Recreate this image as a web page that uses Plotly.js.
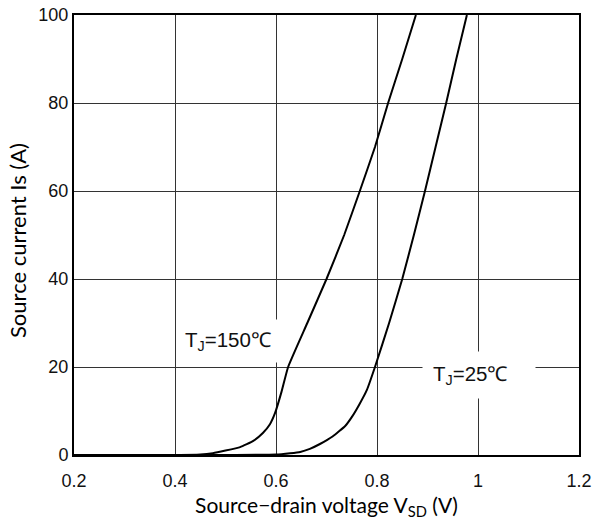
<!DOCTYPE html>
<html>
<head>
<meta charset="utf-8">
<script src="https://cdn.plot.ly/plotly-3.0.1.min.js"></script>
<style>html,body{margin:0;padding:0;background:#fff;}#chart{width:594px;height:520px;}</style>
</head>
<body>
<div id="chart"></div>
<script>
// Tj = 150 C curve
const vsd150 = [0.2, 0.3, 0.4, 0.45, 0.475, 0.5, 0.529, 0.555, 0.574, 0.588, 0.598, 0.611, 0.624, 0.662, 0.7, 0.735, 0.766, 0.796, 0.822, 0.85, 0.877];
const is150  = [0, 0, 0, 0.1, 0.4, 1.0, 1.8, 3.2, 5, 7, 9.5, 14.4, 20, 30, 40, 50, 60, 70, 80, 90, 100];
// Tj = 25 C curve
const vsd25 = [0.2, 0.5, 0.6, 0.628, 0.648, 0.667, 0.687, 0.712, 0.737, 0.75, 0.765, 0.78, 0.796, 0.824, 0.85, 0.873, 0.895, 0.916, 0.937, 0.957, 0.978];
const is25  = [0, 0, 0.1, 0.4, 0.7, 1.4, 2.5, 4.2, 6.6, 8.6, 11.5, 14.8, 20, 30, 40, 50, 60, 70, 80, 90, 100];
const labels = ["T<sub>J</sub>=150℃", "T<sub>J</sub>=25℃&nbsp;&nbsp;&nbsp;"];
const labelPos = [[0.504, 26.0], [1.0025, 18.2]];
const labelPad = [8, 10];
const xTitle = 'Source\u2212drain voltage V<sub>SD</sub> (V)';
const yTitle = 'Source current Is (A)';

const lineStyle = {color: '#000', width: 2, shape: 'spline', smoothing: 0.4};
const traces = [
  {x: vsd150, y: is150, mode: 'lines', line: lineStyle, hoverinfo: 'skip'},
  {x: vsd25, y: is25, mode: 'lines', line: lineStyle, hoverinfo: 'skip'}
];
const tickFont = {family: 'Arial, sans-serif', size: 18, color: '#111'};
const axisCommon = {
  showgrid: true, gridcolor: '#333', gridwidth: 1,
  showline: true, linecolor: '#000', linewidth: 2, mirror: true,
  zeroline: false, ticks: '', tickfont: tickFont, fixedrange: true
};
const layout = {
  width: 594, height: 520,
  margin: {l: 74, r: 15, t: 15, b: 65},
  paper_bgcolor: '#fff', plot_bgcolor: '#fff',
  showlegend: false,
  xaxis: Object.assign({}, axisCommon, {
    range: [0.2, 1.2], dtick: 0.2, tick0: 0.2, ticklabelstandoff: 8,
    title: {text: xTitle, font: {family: 'Lato, sans-serif', size: 21, color: '#000'}, standoff: 9}
  }),
  yaxis: Object.assign({}, axisCommon, {
    range: [0, 100], dtick: 20, ticklabelstandoff: 11.5,
    title: {text: ''}
  }),
  annotations: labels.map((t, i) => ({
    x: labelPos[i][0], y: labelPos[i][1], xref: 'x', yref: 'y',
    text: t, showarrow: false, bgcolor: '#fff', borderpad: labelPad[i],
    font: {family: 'Arial, sans-serif', size: 20.5, color: '#111'}
  })).concat([{
    x: 0, y: 0.5, xref: 'paper', yref: 'paper', xanchor: 'center', yanchor: 'middle',
    xshift: -57, yshift: -6, textangle: -90, showarrow: false,
    text: yTitle, font: {family: 'Lato, sans-serif', size: 22, color: '#000'}
  }])
};
Plotly.newPlot('chart', traces, layout, {staticPlot: true, displayModeBar: false});
</script>
</body>
</html>
